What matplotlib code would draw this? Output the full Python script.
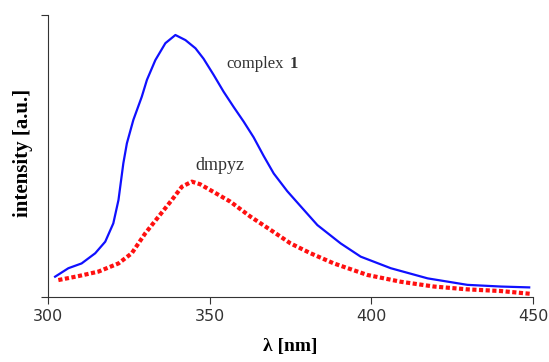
import numpy as np
import matplotlib.pyplot as plt

# wavelength [nm] and relative intensity
complex_wl = [302.2, 306.3, 310.4, 314.6, 317.7, 320.2, 321.8, 323.3, 324.4, 326.4,
              329.0, 330.6, 333.2, 336.3, 339.4, 342.5, 345.6, 348.1, 351.2, 354.3,
              357.4, 360.5, 363.6, 366.7, 369.8, 374.0, 378.1, 383.3, 390.5, 396.7,
              406.0, 417.4, 429.7, 440.1, 448.8]
complex_int = [0.072, 0.102, 0.119, 0.155, 0.196, 0.261, 0.344, 0.474, 0.545, 0.628,
               0.710, 0.770, 0.840, 0.900, 0.929, 0.911, 0.882, 0.845, 0.788, 0.728,
               0.674, 0.622, 0.566, 0.500, 0.438, 0.375, 0.322, 0.255, 0.190, 0.143,
               0.102, 0.066, 0.043, 0.037, 0.034]

dmpyz_wl = [303.2, 309.4, 315.6, 321.8, 325.9, 330.1, 334.2, 338.3, 341.4, 344.5,
            347.0, 350.2, 356.4, 362.6, 368.8, 375.0, 381.2, 388.4, 398.8, 409.1,
            419.4, 429.7, 440.1, 449.4]
dmpyz_int = [0.060, 0.074, 0.090, 0.119, 0.155, 0.226, 0.285, 0.344, 0.391, 0.409,
             0.400, 0.379, 0.338, 0.285, 0.238, 0.190, 0.155, 0.119, 0.078, 0.054,
             0.037, 0.027, 0.021, 0.011]

xticks = [300, 350, 400, 450]

fig = plt.figure(figsize=(5.49, 3.62), dpi=100)
ax = fig.add_axes([0.0874, 0.1796, 0.8836, 0.779])

ax.plot(complex_wl, complex_int, color="#1010ff", lw=1.6)
ax.plot(dmpyz_wl, dmpyz_int, color="#ff1010", lw=3.0, linestyle=(0, (1, 0.6)))

ax.set_xlim(300, 450)
ax.set_ylim(0, 1)
ax.set_xticks(xticks)
ax.set_yticks([0, 1])
ax.set_yticklabels([])
for spine in ["top", "right"]:
    ax.spines[spine].set_visible(False)
for spine in ["left", "bottom"]:
    ax.spines[spine].set_color("#333333")
ax.tick_params(direction="out", length=5, color="#333333", labelsize=11.5,
               labelcolor="#333333")

serif = "Liberation Serif"
txt = ax.text(355.3, 0.825, "complex", fontsize=12, family=serif, color="#333333",
              ha="left", va="center")
ax.annotate("1", xy=(1, 0), xycoords=txt, xytext=(4, 0), textcoords="offset points",
            fontsize=12, family=serif, color="#333333", weight="bold",
            ha="left", va="bottom")
ax.text(345.5, 0.467, "dmpyz", fontsize=13, family=serif, color="#333333",
        ha="left", va="center")

ax.set_xlabel("λ [nm]", fontsize=14, family=serif, weight="bold", labelpad=10)
ax.set_ylabel("intensity [a.u.]", fontsize=15, family=serif, weight="bold")
ax.yaxis.set_label_coords(-0.03, 0.51)

fig.savefig("out.png", dpi=100)
